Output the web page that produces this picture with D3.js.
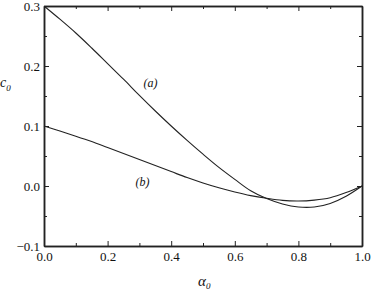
<!DOCTYPE html>
<meta charset="utf-8">
<style>
body { margin: 0; background: #fff; }
.curve { fill: none; stroke: #222; stroke-width: 1.1px; }
.axis path, .axis line { stroke: #222; }
.axis text { font-size: 13px; fill: #111; }
.lab { font-style: italic; fill: #111; }
</style>
<body>
<script src="https://d3js.org/d3.v7.min.js"></script>
<script>

// data
var alpha = [0, 0.05, 0.1, 0.15, 0.2, 0.25, 0.3, 0.35, 0.4, 0.45, 0.5,
             0.55, 0.6, 0.65, 0.7, 0.75, 0.8, 0.85, 0.9, 0.95, 1.0];
var curveA = [0.300, 0.278, 0.255, 0.230, 0.204, 0.178, 0.151, 0.125, 0.100, 0.076, 0.053,
              0.031, 0.011, -0.008, -0.021, -0.030, -0.035, -0.035, -0.029, -0.017, 0.000];
var curveB = [0.100, 0.0915, 0.083, 0.074, 0.064, 0.054, 0.044, 0.034, 0.024, 0.014, 0.005,
              -0.003, -0.010, -0.016, -0.0205, -0.024, -0.025, -0.0235, -0.0195, -0.011, 0.000];
var xTicks = [0, 0.2, 0.4, 0.6, 0.8, 1.0];
var yTicks = [-0.1, 0.0, 0.1, 0.2, 0.3];

var margin = {top: 6, right: 10, bottom: 45, left: 44},
    width = 372 - margin.left - margin.right,
    height = 291 - margin.top - margin.bottom;

var serif = "'Liberation Serif', 'Times New Roman', Times, serif";

var x = d3.scaleLinear().domain([0, 1]).range([0, width]);
var y = d3.scaleLinear().domain([-0.1, 0.3]).range([height, 0]);

var svg = d3.select("body").append("svg")
    .attr("width", 372)
    .attr("height", 291)
    .style("font-family", serif)
  .append("g")
    .attr("transform", "translate(" + margin.left + "," + margin.top + ")");

var fmt = d3.format(".1f");
var minorX = d3.range(0.1, 1, 0.2);
var minorY = [-0.05, 0.05, 0.15, 0.25];

// frame with inward ticks on all sides
function side(axisFn, scale, ticks, len, pos, labels) {
  var g = svg.append("g").attr("class", "axis")
      .attr("transform", pos)
      .call(axisFn(scale).tickValues(ticks).tickSizeInner(-len).tickSizeOuter(0)
        .tickFormat(labels ? function(d) { return fmt(d).replace("-0.0", "0.0"); } : ""));
  g.attr("font-family", serif);
  return g;
}

var bx = side(d3.axisBottom, x, xTicks, 5, "translate(0," + height + ")", true);
bx.selectAll("text").attr("dy", "0.9em");
side(d3.axisBottom, x, minorX, 3, "translate(0," + height + ")", false);
side(d3.axisTop, x, xTicks, 5, "translate(0,0)", false);
side(d3.axisTop, x, minorX, 3, "translate(0,0)", false);
var ly = side(d3.axisLeft, y, yTicks, 5, "translate(0,0)", true);
ly.selectAll("text").attr("x", -4);
side(d3.axisLeft, y, minorY, 3, "translate(0,0)", false);
side(d3.axisRight, y, yTicks, 5, "translate(" + width + ",0)", false);
side(d3.axisRight, y, minorY, 3, "translate(" + width + ",0)", false);
svg.selectAll(".axis path").attr("stroke-width", 1.5);

var line = d3.line()
    .x(function(d, i) { return x(alpha[i]); })
    .y(function(d) { return y(d); })
    .curve(d3.curveCatmullRom);

svg.append("path").datum(curveA).attr("class", "curve").attr("d", line);
svg.append("path").datum(curveB).attr("class", "curve").attr("d", line);

svg.append("text").attr("class", "lab").attr("x", x(0.335)).attr("y", y(0.165))
    .style("font-size", "12px").attr("text-anchor", "middle").text("(a)");
svg.append("text").attr("class", "lab").attr("x", x(0.31)).attr("y", y(0.0))
    .style("font-size", "12px").attr("text-anchor", "middle").text("(b)");

// axis titles
var yl = svg.append("text").attr("class", "lab").attr("x", -margin.left).attr("y", 81)
    .style("font-size", "14px");
yl.append("tspan").text("c");
yl.append("tspan").attr("dy", 4).style("font-size", "9px").text("0");

var xl = svg.append("text").attr("class", "lab").attr("x", 154).attr("y", 280)
    .style("font-size", "15px");
xl.append("tspan").text("α");
xl.append("tspan").attr("dy", 3).style("font-size", "9px").text("0");

</script>
</body>
